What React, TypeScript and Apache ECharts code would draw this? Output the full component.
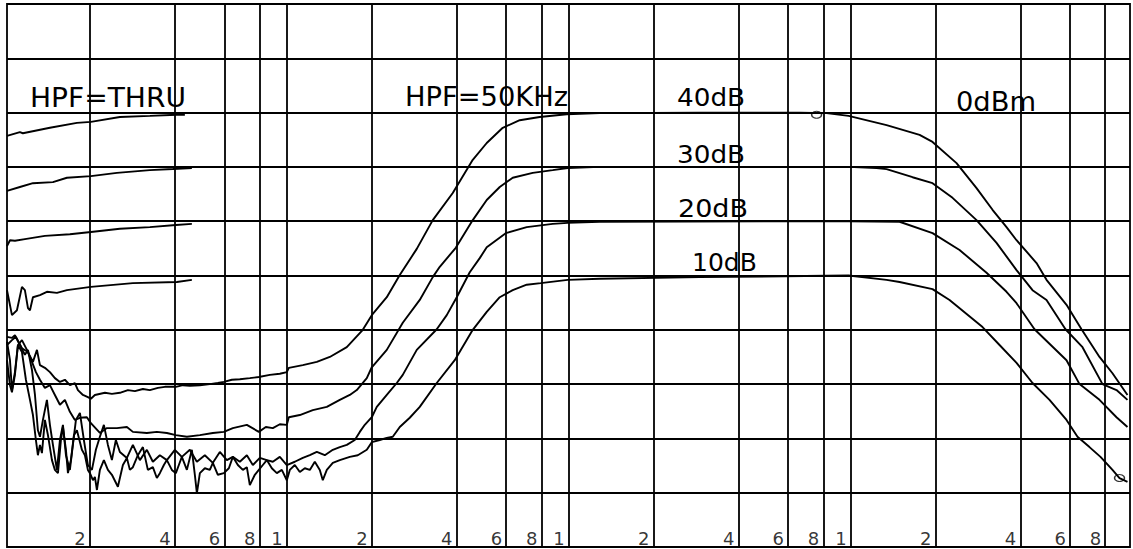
import { useEffect, useRef } from "react";
import * as echarts from "echarts";

// Frequency in kHz (log axis), level in dB
const THRU_40 = [[1.017,-4.3],[1.13,-3.6],[1.158,-3.8],[1.444,-2.8],[1.8,-1.9],[2.018,-1.7],[2.557,-0.8],[3.267,-0.6],[4.073,-0.4],[4.348,-0.4]];
const THRU_30 = [[1.017,-14.4],[1.13,-13.7],[1.257,-13.0],[1.48,-12.8],[1.659,-12.0],[2.018,-11.7],[2.496,-11.1],[3.267,-10.6],[3.942,-10.4],[4.604,-10.2]];
const THRU_20 = [[1.017,-24.6],[1.042,-23.5],[1.085,-23.6],[1.177,-23.3],[1.386,-22.7],[1.7,-22.4],[2.018,-22.0],[2.557,-21.4],[3.267,-21.1],[4.04,-20.7],[4.604,-20.5]];
const THRU_10 = [[1.017,-32.7],[1.059,-37.3],[1.103,-36.4],[1.149,-32.1],[1.177,-32.7],[1.207,-36.0],[1.227,-36.4],[1.257,-34.0],[1.331,-33.6],[1.409,-33.0],[1.529,-33.2],[1.659,-32.7],[2.018,-32.1],[2.844,-31.4],[4.073,-31.2],[4.604,-30.8]];

const HPF_40 = [[1.017,-42.8],[1.059,-41.9],[1.094,-41.3],[1.149,-43.4],[1.207,-44.1],[1.257,-45.9],[1.299,-43.7],[1.331,-46.5],[1.386,-47.0],[1.444,-47.8],[1.504,-48.9],[1.567,-49.6],[1.632,-49.2],[1.7,-50.2],[1.771,-49.8],[1.815,-51.1],[1.891,-52.0],[1.969,-52.4],[2.018,-52.7],[2.085,-52.0],[2.263,-51.6],[2.396,-51.8],[2.557,-51.6],[2.73,-51.1],[2.891,-51.3],[3.086,-50.9],[3.267,-51.1],[3.488,-50.7],[3.693,-50.5],[4.04,-50.5],[4.278,-50.2],[4.529,-50.3],[4.915,-50.2],[5.333,-50.0],[5.693,-49.8],[5.979,-49.6],[6.382,-49.2],[6.813,-49.1],[7.392,-48.9],[7.956,-48.7],[8.704,-48.3],[9.445,-48.1],[10.0,-47.8],[10.165,-47.0],[11.396,-46.5],[12.776,-45.9],[14.207,-45.0],[16.321,-43.2],[18.6,-40.0],[20.018,-37.3],[22.627,-34.0],[25.16,-29.9],[28.906,-25.1],[32.94,-19.8],[38.785,-14.8],[45.67,-8.7],[51.19,-5.6],[58.34,-2.8],[67.03,-1.4],[78.91,-0.8],[98.38,-0.3],[128.8,-0.1],[291.4,0],[659.4,0],[822,-0.1],[983.8,-0.6],[1341.7,-2.3],[1757,-4.1],[1953,-5.4],[2376,-9.3],[2798,-13.9],[3188,-17.9],[3574,-21.1],[3879,-23.5],[4567,-27.7],[4955,-30.8],[5834,-35.4],[6595,-39.9],[7638,-45.0],[8493,-48.0],[9600,-52.0]];

const HPF_30 = [[1.017,-42.2],[1.042,-45.6],[1.059,-51.1],[1.085,-47.8],[1.112,-42.8],[1.149,-41.9],[1.197,-43.7],[1.247,-45.9],[1.288,-47.8],[1.331,-49.2],[1.386,-50.7],[1.444,-50.2],[1.504,-52.0],[1.567,-53.8],[1.632,-52.9],[1.7,-55.1],[1.771,-56.6],[1.845,-56.2],[1.953,-56.1],[2.018,-57.2],[2.172,-59.0],[2.3,-58.1],[2.496,-58.1],[2.708,-57.9],[2.844,-58.8],[3.188,-59.0],[3.459,-58.8],[3.754,-59.0],[4.04,-59.4],[4.42,-59.7],[4.915,-59.4],[5.465,-59.0],[5.979,-58.8],[6.434,-58.1],[7.214,-57.5],[7.956,-58.8],[8.424,-57.9],[8.92,-58.1],[9.445,-57.4],[10.0,-57.5],[10.165,-56.1],[11.12,-55.7],[12.365,-54.8],[13.863,-54.2],[15.415,-52.9],[16.726,-52.0],[17.71,-51.1],[19.217,-48.9],[20.018,-46.9],[22.627,-43.7],[25.784,-38.7],[29.623,-34.5],[32.94,-30.3],[34.88,-28.4],[39.75,-24.9],[45.67,-19.8],[51.19,-16.1],[56.93,-13.7],[63.3,-12.0],[74.53,-11.1],[87.77,-10.6],[99.19,-10.2],[128.8,-10.0],[983.8,-10.0],[1236.5,-10.2],[1341.7,-10.4],[1659,-11.9],[1953,-13.0],[2300,-15.7],[2798,-19.8],[3294,-24.0],[3879,-29.0],[4420,-32.7],[4955,-34.5],[5786,-39.9],[6649,-43.2],[7827,-50.0],[8777,-51.1],[9600,-52.9]];

const HPF_20 = [[1.017,-41.3],[1.059,-41.5],[1.085,-41.0],[1.13,-42.8],[1.177,-44.6],[1.207,-43.7],[1.247,-47.4],[1.278,-52.0],[1.309,-58.5],[1.331,-59.7],[1.364,-56.6],[1.409,-52.9],[1.444,-57.5],[1.48,-61.2],[1.529,-65.8],[1.567,-60.3],[1.606,-57.5],[1.646,-63.1],[1.7,-65.8],[1.742,-61.2],[1.786,-56.6],[1.845,-55.3],[1.906,-60.3],[1.969,-64.9],[2.035,-65.8],[2.102,-62.1],[2.172,-59.7],[2.244,-57.5],[2.319,-61.2],[2.396,-64.0],[2.475,-60.3],[2.557,-62.5],[2.708,-63.6],[2.844,-61.2],[3.011,-64.0],[3.188,-62.1],[3.348,-64.3],[3.545,-63.1],[3.754,-64.0],[4.007,-62.1],[4.243,-63.4],[4.529,-62.1],[4.796,-64.3],[5.119,-63.1],[5.465,-64.5],[5.786,-62.5],[6.127,-64.0],[6.434,-63.4],[6.813,-64.3],[7.214,-63.1],[7.576,-64.9],[8.021,-63.6],[8.493,-64.0],[8.92,-64.3],[9.445,-63.4],[10.0,-64.9],[10.675,-64.3],[11.396,-63.6],[12.066,-63.1],[12.776,-62.5],[13.638,-63.1],[14.559,-62.1],[15.415,-61.6],[16.321,-61.2],[17.423,-60.3],[18.15,-58.8],[18.906,-57.5],[20.018,-56.1],[20.852,-54.2],[22.627,-52.0],[24.551,-49.8],[25.784,-48.3],[28.906,-43.7],[34.03,-39.9],[36.93,-37.3],[40.07,-34.0],[44.56,-29.4],[48.35,-26.8],[51.19,-24.8],[59.79,-22.2],[70.97,-21.1],[87.77,-20.5],[99.19,-20.3],[128.8,-20.1],[983.8,-20.0],[1492,-20.1],[1953,-22.2],[2435,-25.3],[3036,-29.5],[3574,-33.0],[3879,-35.1],[4493,-39.9],[5834,-45.6],[6488,-50.0],[7638,-52.9],[8777,-56.1],[9600,-57.9]];

const HPF_10 = [[1.017,-45.6],[1.042,-50.2],[1.059,-51.5],[1.085,-48.3],[1.112,-42.8],[1.149,-44.1],[1.187,-49.2],[1.227,-52.9],[1.257,-55.7],[1.288,-60.3],[1.309,-63.1],[1.331,-61.2],[1.353,-62.7],[1.386,-56.6],[1.421,-59.4],[1.468,-64.0],[1.504,-65.8],[1.542,-66.4],[1.58,-60.3],[1.606,-57.9],[1.646,-62.1],[1.673,-66.4],[1.714,-64.0],[1.757,-59.4],[1.8,-58.5],[1.875,-62.1],[1.922,-63.1],[1.969,-65.8],[2.002,-66.4],[2.052,-67.7],[2.085,-67.1],[2.12,-69.5],[2.172,-65.8],[2.244,-64.0],[2.319,-65.8],[2.396,-66.7],[2.516,-68.9],[2.621,-64.9],[2.708,-63.6],[2.775,-65.8],[2.844,-65.3],[2.962,-63.1],[3.086,-61.6],[3.214,-65.8],[3.348,-65.3],[3.459,-67.3],[3.545,-66.4],[3.663,-64.9],[3.754,-64.0],[3.91,-65.8],[4.04,-66.4],[4.14,-64.9],[4.243,-63.4],[4.42,-65.8],[4.604,-62.1],[4.718,-66.7],[4.796,-70.1],[4.915,-66.4],[5.119,-65.5],[5.333,-65.8],[5.465,-64.5],[5.693,-66.7],[5.979,-66.4],[6.228,-65.5],[6.434,-63.4],[6.703,-64.9],[6.982,-65.8],[7.214,-65.3],[7.392,-68.6],[7.701,-66.7],[7.956,-65.8],[8.22,-64.9],[8.493,-64.0],[8.847,-65.5],[9.216,-66.4],[9.6,-65.8],[10.0,-67.7],[10.248,-65.8],[10.675,-64.9],[11.12,-66.2],[11.583,-65.5],[12.066,-65.8],[12.569,-64.3],[13.092,-65.8],[13.417,-67.7],[13.863,-65.8],[14.559,-64.5],[15.415,-64.0],[16.726,-63.4],[17.855,-63.1],[19.217,-62.1],[20.018,-60.7],[21.369,-60.3],[22.627,-59.9],[23.763,-59.7],[25.16,-57.9],[27.3,-56.2],[29.623,-54.2],[34.03,-49.8],[39.42,-45.6],[45.67,-40.0],[51.19,-36.7],[56.93,-34.0],[63.3,-32.7],[70.97,-31.7],[79.56,-31.4],[99.19,-30.8],[128.8,-30.6],[291.4,-30.3],[983.8,-30.0],[1341.7,-30.8],[1492,-31.2],[1953,-32.5],[2244,-34.5],[2938,-39.5],[3376,-42.8],[3879,-46.1],[4420,-49.8],[5078,-52.9],[5834,-56.6],[6382,-59.7],[7039,-61.6],[7701,-63.4],[8493,-65.8],[8995,-67.3],[9600,-68.0]];

const MARKER_POINTS = [[757.6,-0.4],[8995,-67.3]];

const GRID_FREQS = [2,4,6,8,10,20,40,60,80,100,200,400,600,800,1000,2000,4000,6000,8000];
const TICK_LABELS = ["2","4","6","8","1","2","4","6","8","1","2","4","6","8","1","2","4","6","8"];

const X_MIN = 1.017;
const X_MAX = 9800;
const Y_MIN = -80;
const Y_MAX = 20;

const TEXT_LABELS = [
  { text: "HPF=THRU", x: 30, y: 98, size: 26, sx: 1.08 },
  { text: "HPF=50KHz", x: 405, y: 97, size: 26, sx: 1.05 },
  { text: "40dB", x: 677, y: 97, size: 25, sx: 1.05 },
  { text: "30dB", x: 677, y: 154, size: 25, sx: 1.05 },
  { text: "20dB", x: 678, y: 208, size: 25, sx: 1.08 },
  { text: "10dB", x: 692, y: 262, size: 25, sx: 1.0 },
  { text: "0dBm", x: 956, y: 102, size: 26, sx: 1.05 },
];

export default function App() {
  const ref = useRef<HTMLDivElement>(null);
  useEffect(() => {
    const chart = echarts.init(ref.current!, null, { renderer: "svg" });
    const line = (name: string, data: number[][]) => ({
      type: "line",
      name,
      data,
      showSymbol: false,
      symbol: "none",
      silent: true,
      z: 4,
      lineStyle: { color: "#000", width: 1.9 },
    });
    chart.setOption({
      animation: false,
      backgroundColor: "#fff",
      grid: {
        left: 7,
        right: 3,
        top: 4,
        bottom: 2,
        show: true,
        borderColor: "#000",
        borderWidth: 1.8,
        backgroundColor: "#fff",
      },
      xAxis: {
        type: "log",
        logBase: 10,
        min: X_MIN,
        max: X_MAX,
        axisLine: { show: false },
        axisTick: { show: false },
        axisLabel: { show: false },
        splitLine: { show: false },
        minorSplitLine: { show: false },
      },
      yAxis: {
        type: "value",
        min: Y_MIN,
        max: Y_MAX,
        interval: 10,
        axisLine: { show: false },
        axisTick: { show: false },
        axisLabel: { show: false },
        splitLine: { show: true, lineStyle: { color: "#000", width: 1.8 } },
      },
      graphic: TEXT_LABELS.map((t) => ({
        type: "text",
        x: t.x,
        y: t.y,
        scaleX: t.sx,
        z: 10,
        style: {
          text: t.text,
          fontFamily: "DejaVu Sans",
          fontSize: t.size,
          fontWeight: "normal",
          fill: "#000",
          verticalAlign: "middle",
          align: "left",
        },
      })),
      series: [
        {
          type: "scatter",
          name: "ticks",
          silent: true,
          symbolSize: 0,
          z: 5,
          data: GRID_FREQS.map((f, i) => ({
            value: [f, Y_MIN],
            label: { formatter: TICK_LABELS[i] },
          })),
          label: {
            show: true,
            position: [-4, -9],
            align: "right",
            verticalAlign: "middle",
            fontFamily: "DejaVu Sans",
            fontSize: 18,
            color: "#000",
          },
          markLine: {
            silent: true,
            symbol: ["none", "none"],
            label: { show: false },
            lineStyle: { color: "#000", width: 1.8, type: "solid" },
            data: GRID_FREQS.map((f) => ({ xAxis: f })),
          },
        },
        line("THRU 40dB", THRU_40),
        line("THRU 30dB", THRU_30),
        line("THRU 20dB", THRU_20),
        line("THRU 10dB", THRU_10),
        line("HPF 40dB", HPF_40),
        line("HPF 30dB", HPF_30),
        line("HPF 20dB", HPF_20),
        line("HPF 10dB", HPF_10),
        {
          type: "scatter",
          name: "markers",
          silent: true,
          symbol: "circle",
          symbolSize: [10, 7],
          z: 6,
          itemStyle: { color: "rgba(0,0,0,0)", borderColor: "#000", borderWidth: 1.3 },
          data: MARKER_POINTS,
        },
      ],
    });
    return () => chart.dispose();
  }, []);
  return (
    <div
      ref={ref}
      style={{ position: "fixed", left: 0, top: 0, width: 1133, height: 549, background: "#fff" }}
    />
  );
}
